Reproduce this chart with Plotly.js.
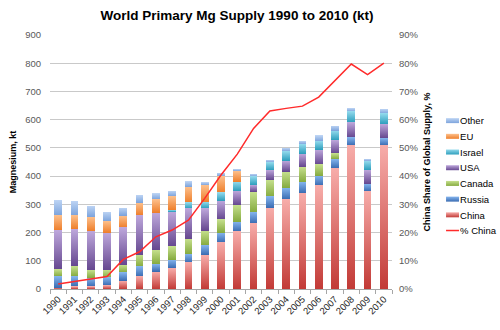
<!DOCTYPE html>
<html>
<head>
<meta charset="utf-8">
<script src="https://cdn.plot.ly/plotly-3.0.1.min.js"></script>
<style>html,body{margin:0;padding:0;background:#fff;}#chart{width:500px;height:330px;}</style>
</head>
<body>
<div id="chart"></div>
<script>
// ---- data (kt) ----
const years = ["1990","1991","1992","1993","1994","1995","1996","1997","1998","1999","2000","2001","2002","2003","2004","2005","2006","2007","2008","2009","2010"];
const china  = [5, 9, 9, 13, 29, 45, 62, 74, 94, 121, 165, 204, 233, 288, 318, 340, 367, 428, 509, 347, 509];
const russia = [40, 36, 30, 28, 30, 35, 27, 30, 31, 35, 35, 35, 40, 40, 41, 40, 35, 33, 29, 26, 26];
const canada = [25, 37, 29, 27, 27, 42, 50, 47, 53, 51, 47, 59, 72, 59, 57, 53, 40, 20, 0, 0, 0];
const usa    = [139, 131, 138, 132, 132, 140, 132, 123, 108, 79, 66, 50, 24, 35, 39, 47, 52, 47, 53, 49, 50];
const israel = [0, 0, 0, 0, 0, 0, 0, 6, 21, 23, 29, 32, 30, 27, 33, 33, 30, 33, 38, 31, 37];
const eu     = [53, 49, 50, 41, 42, 44, 47, 49, 55, 59, 58, 38, 0, 0, 0, 0, 0, 0, 0, 0, 0];
const other  = [53, 50, 39, 33, 28, 27, 21, 19, 20, 11, 12, 7, 9, 9, 12, 12, 20, 18, 12, 8, 16];
const pctChina = [1.8, 2.6, 3.4, 4.4, 10.5, 13.2, 18.5, 20.9, 24.4, 32.1, 40.4, 47.8, 56.9, 63.1, 64.0, 64.8, 68.0, 74.0, 79.7, 76.0, 80.0];
const yTicks = [0, 100, 200, 300, 400, 500, 600, 700, 800, 900];

const seriesNames = ["China", "Russia", "Canada", "USA", "Israel", "EU", "Other"];
const seriesData = [china, russia, canada, usa, israel, eu, other];
const midColors = ["#D9605C", "#5A8ED4", "#A7C865", "#8E72B5", "#55BCD7", "#F9A060", "#9DBDEA"];
const lightColors = ["#F7ADAA", "#85B5EE", "#C6E08E", "#BEA8DC", "#92D9EC", "#FDC08C", "#BDD4F4"];
const darkColors = ["#C23A36", "#3A6CB2", "#86AB40", "#664890", "#2E9FBD", "#EE7F2C", "#7DA4DC"];
const lineColor = "#FF2B2B";

const font = "Liberation Sans, Arial, sans-serif";

const traces = seriesNames.map((n, i) => ({
  type: "bar",
  name: n,
  x: years,
  y: seriesData[i],
  marker: {color: midColors[i], line: {width: 0}},
  legendrank: 7 - i,
  hoverinfo: "skip"
}));
traces.push({
  type: "scatter",
  mode: "lines",
  name: "% China",
  x: years,
  y: pctChina.map(v => v / 100),
  yaxis: "y2",
  line: {color: lineColor, width: 1.5},
  legendrank: 8,
  hoverinfo: "skip"
});

const layout = {
  width: 500,
  height: 330,
  margin: {l: 50, r: 108, t: 35, b: 41, pad: 0, autoexpand: false},
  paper_bgcolor: "#ffffff",
  plot_bgcolor: "#ffffff",
  barmode: "stack",
  bargap: 0.53,
  font: {family: font, size: 9.5, color: "#404040"},
  title: {
    text: "World Primary Mg Supply 1990 to 2010 (kt)",
    font: {family: font, size: 13.5, color: "#000000", weight: "bold"},
    x: 0.474, xanchor: "center", xref: "container",
    y: 0.955, yanchor: "middle", yref: "container"
  },
  xaxis: {
    type: "category",
    tickangle: -45,
    showline: true, linecolor: "#A6A6A6", linewidth: 1,
    ticks: "outside", tickson: "boundaries", ticklen: 4, tickcolor: "#A6A6A6",
    tickfont: {family: font, size: 9.5, color: "#262626"},
    showgrid: false, zeroline: false
  },
  yaxis: {
    range: [0, 900],
    tickvals: yTicks,
    showgrid: true, gridcolor: "#C9C9C9", gridwidth: 1,
    zeroline: false, showline: false,
    ticklabelstandoff: 8,
    tickfont: {family: font, size: 9.5, color: "#595959"},
    title: {text: "Magnesium, kt", standoff: 6, font: {family: font, size: 9, color: "#000000", weight: "bold"}}
  },
  yaxis2: {
    overlaying: "y", side: "right",
    range: [0, 0.9], dtick: 0.1, tickformat: ".0%",
    showgrid: false, zeroline: false, showline: false,
    ticklabelstandoff: 6,
    tickfont: {family: font, size: 9.5, color: "#595959"},
    title: {text: "China Share of Global Supply, %", standoff: 6, font: {family: font, size: 9, color: "#000000", weight: "bold"}}
  },
  legend: {
    x: 1.082, xanchor: "left", y: 0.72, yanchor: "top",
    traceorder: "normal",
    font: {family: font, size: 9.5, color: "#000000"},
    bgcolor: "rgba(0,0,0,0)", borderwidth: 0,
    itemwidth: 30
  },
  showlegend: true
};

Plotly.newPlot("chart", traces, layout, {displayModeBar: false, staticPlot: true}).then(gd => {
  // Excel-like vertical gradients on the bar segments
  const svg = gd.querySelector(".main-svg");
  let defs = svg.querySelector("defs");
  const NS = "http://www.w3.org/2000/svg";
  if (!defs) { defs = document.createElementNS(NS, "defs"); svg.insertBefore(defs, svg.firstChild); }
  seriesNames.forEach((n, i) => {
    const g = document.createElementNS(NS, "linearGradient");
    g.setAttribute("id", "grad" + i);
    g.setAttribute("x1", "0"); g.setAttribute("y1", "0");
    g.setAttribute("x2", "0"); g.setAttribute("y2", "1");
    const s1 = document.createElementNS(NS, "stop");
    s1.setAttribute("offset", "0"); s1.setAttribute("stop-color", lightColors[i]);
    const s2 = document.createElementNS(NS, "stop");
    s2.setAttribute("offset", "1"); s2.setAttribute("stop-color", darkColors[i]);
    g.appendChild(s1); g.appendChild(s2);
    defs.appendChild(g);
  });
  const barTraces = gd.querySelectorAll(".barlayer .trace");
  barTraces.forEach((t, i) => {
    t.querySelectorAll("path").forEach(p => { p.style.fill = "url(#grad" + i + ")"; });
  });
  // Excel-like compact legend: thin swatches right next to the text, tighter rows
  const items = gd.querySelectorAll(".legend .traces");
  let y0 = null;
  items.forEach((t, k) => {
    const m = /translate\(\s*([-\d.]+)[ ,]+([-\d.]+)\s*\)/.exec(t.getAttribute("transform") || "");
    if (m) {
      if (y0 === null) y0 = parseFloat(m[2]);
      t.setAttribute("transform", "translate(" + m[1] + "," + (y0 + k * 15.7) + ")");
    }
    const txt = t.querySelector("text.legendtext");
    const name = txt ? txt.textContent : "";
    const idx = seriesNames.indexOf(name);
    t.querySelectorAll(".legendpoints, .legendlines, .legendfill").forEach(g => { g.style.display = "none"; });
    const p = document.createElementNS(NS, "path");
    if (idx >= 0) {
      p.setAttribute("d", "M26,-2.5H39V2.5H26Z");
      p.setAttribute("fill", "url(#grad" + idx + ")");
    } else {
      p.setAttribute("d", "M26,0H39");
      p.setAttribute("fill", "none");
      p.setAttribute("stroke", lineColor);
      p.setAttribute("stroke-width", "1.5");
    }
    t.appendChild(p);
  });
});
</script>
</body>
</html>
